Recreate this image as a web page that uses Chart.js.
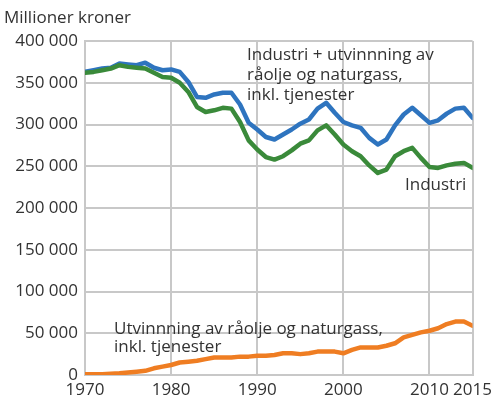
<!DOCTYPE html>
<html><head><meta charset="utf-8">
<script src="https://cdn.jsdelivr.net/npm/chart.js@4/dist/chart.umd.min.js"></script>
<style>html,body{margin:0;padding:0;background:#fff}#wrap{width:497px;height:411px;position:relative}</style>
</head><body><div id="wrap"><canvas id="c" width="497" height="411"></canvas></div>
<script>
const years = [1970,1971,1972,1973,1974,1975,1976,1977,1978,1979,1980,1981,1982,1983,1984,1985,1986,1987,1988,1989,1990,1991,1992,1993,1994,1995,1996,1997,1998,1999,2000,2001,2002,2003,2004,2005,2006,2007,2008,2009,2010,2011,2012,2013,2014,2015];
const totalValues = [363000,365000,367000,368000,373000,372000,371000,374000,368000,365000,366000,363000,351000,333000,332000,336000,338000,338000,324000,302000,294000,285000,282000,288000,294000,301000,306000,319000,326000,314000,303000,299000,296000,284000,276000,282000,299000,312000,320000,311000,302000,305000,313000,319000,320000,308000];
const industriValues = [362000,363000,365000,367000,371000,369000,368000,367000,362000,357000,356000,350000,339000,321000,315000,317000,320000,319000,303000,281000,270000,261000,258000,262000,269000,277000,281000,293000,299000,288000,276000,268000,262000,251000,242000,246000,262000,268000,272000,260000,249000,248000,251000,253000,254000,248000];
const oljeValues = [1000,1000,1000,1500,2000,3000,4000,5000,8000,10000,12000,15000,16000,17000,19000,21000,21000,21000,22000,22000,23000,23000,24000,26000,26000,25000,26000,28000,28000,28000,26000,30000,33000,33000,33000,35000,38000,45000,48000,51000,53000,56000,61000,64000,64000,59000];
const xTicks = [1970,1980,1990,2000,2010,2015];
const yTicks = [0,50000,100000,150000,200000,250000,300000,350000,400000];

const FONT = "'Open Sans', sans-serif";
const TXT = '#333';
const labelsPlugin = {
  id:'labels',
  afterDraw(chart){
    const ctx = chart.ctx;
    ctx.save();
    ctx.fillStyle = TXT;
    ctx.font = "17px " + FONT;
    ctx.textBaseline = 'middle';
    ctx.textAlign = 'left';
    ctx.fillText('Millioner kroner', 4, 18);
    const lines1 = ['Industri + utvinnning av','råolje og naturgass,','inkl. tjenester'];
    lines1.forEach((t,i)=>ctx.fillText(t, 247, 55 + i*20));
    ctx.fillText('Industri', 405, 185);
    ctx.fillText('Utvinnning av råolje og naturgass,', 114, 329);
    ctx.fillText('inkl. tjenester', 114, 347);
    ctx.restore();
  }
};

const mk = (data,color)=>({data: years.map((y,i)=>({x:y,y:data[i]})), borderColor:color, borderWidth:4.5, pointRadius:0, tension:0, fill:false, borderCapStyle:'round', borderJoinStyle:'round'});

new Chart(document.getElementById('c'), {
  type:'line',
  data:{datasets:[mk(oljeValues,'#ef7d22'), mk(industriValues,'#3a8a3a'), mk(totalValues,'#2e74bf')]},
  options:{
    responsive:false, animation:false,
    layout:{padding:{left:0,top:41,right:23,bottom:0}},
    plugins:{legend:{display:false},tooltip:{enabled:false}},
    scales:{
      x:{type:'linear', min:1970, max:2015,
        afterBuildTicks(s){ s.ticks = xTicks.map(v=>({value:v})); },
        afterFit(s){ s.height = 36; },
        grid:{color:'#c8c8c8', lineWidth:2, drawTicks:false},
        border:{color:'#c8c8c8', width:2},
        ticks:{autoSkip:false, maxRotation:0, padding:5, color:TXT, font:{family:FONT,size:17}, callback:v=>String(v)}
      },
      y:{min:0, max:400000,
        afterBuildTicks(s){ s.ticks = yTicks.map(v=>({value:v})); },
        afterFit(s){ s.width = 85; },
        grid:{color:'#c8c8c8', lineWidth:2, drawTicks:false},
        border:{color:'#c8c8c8', width:2},
        ticks:{padding:7, color:TXT, font:{family:FONT,size:17}, callback:v=>String(v).replace(/\B(?=(\d{3})+(?!\d))/g,' ')}
      }
    }
  },
  plugins:[labelsPlugin]
});
</script></body></html>
